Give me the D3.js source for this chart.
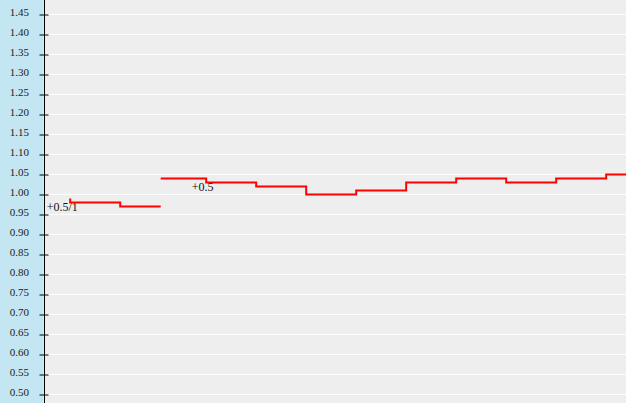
<!DOCTYPE html>
<html>
<head>
<meta charset="utf-8">
<script src="https://cdn.jsdelivr.net/npm/d3@7"></script>
<style>
  html, body { margin: 0; padding: 0; overflow: hidden; }
  svg { display: block; }
</style>
</head>
<body>
<svg id="chart"></svg>
<script>
let width = 626;
let height = 403;
let axisX = 44.5;

// y axis tick labels
const yTicks = [0.50, 0.55, 0.60, 0.65, 0.70, 0.75, 0.80, 0.85, 0.90, 0.95,
  1.00, 1.05, 1.10, 1.15, 1.20, 1.25, 1.30, 1.35, 1.40, 1.45];

// first run (t in steps, value)
const run1T = [0, 0, 1, 1.81];
const run1V = [0.99, 0.98, 0.97, 0.97];

// second run after the gap
const run2T = [1.81, 2.72, 3.72, 4.72, 5.72, 6.72, 7.72, 8.72, 9.72, 10.72, 11.3];
const run2V = [1.04, 1.03, 1.02, 1.00, 1.01, 1.03, 1.04, 1.03, 1.04, 1.05, 1.05];

// annotations tied to data points
const noteText = ["+0.5/1", "+0.5"];
const noteT = [0, 2.72];
const noteV = [0.99, 1.03];

let serif = "'Liberation Serif', 'Times New Roman', 'DejaVu Serif', serif";

let svg = d3.select("svg#chart")
  .attr("width", width)
  .attr("height", height);

let xScale = d3.scaleLinear().domain([0, 10]).range([70.2, 570.2]);
let yScale = d3.scaleLinear().domain([0.5, 1.45]).range([394.5, 14.5]);

// backgrounds
svg.append("rect")
  .attr("x", 0).attr("y", 0)
  .attr("width", width).attr("height", height)
  .attr("fill", "#eeeeee");

svg.append("rect")
  .attr("x", 0).attr("y", 0)
  .attr("width", 43.5).attr("height", height)
  .attr("fill", "#c3e6f2");

// grid lines
svg.append("g")
  .selectAll("line")
  .data(yTicks)
  .join("line")
  .attr("x1", axisX + 1)
  .attr("x2", width)
  .attr("y1", (d) => yScale(d))
  .attr("y2", (d) => yScale(d))
  .attr("stroke", "#ffffff")
  .attr("stroke-width", 1);

// y axis
let yAxis = d3.axisLeft(yScale)
  .tickValues(yTicks)
  .tickSize(0)
  .tickPadding(0)
  .tickFormat(d3.format(".2f"));

let axisG = svg.append("g")
  .attr("transform", `translate(${axisX}, 0)`)
  .attr("font-family", serif)
  .call(yAxis);

axisG.attr("font-family", serif).attr("font-size", 11);
axisG.select(".domain").remove();
axisG.selectAll(".tick text")
  .attr("x", -15.5)
  .attr("dy", "0.05em")
  .attr("fill", "#1a1a1a")
  .style("font-family", serif)
  .style("font-size", "11px");
axisG.selectAll(".tick").append("line")
  .attr("x1", -5)
  .attr("x2", 4)
  .attr("stroke", "#000");

svg.append("line")
  .attr("x1", axisX).attr("x2", axisX)
  .attr("y1", 0).attr("y2", height)
  .attr("stroke", "#000")
  .attr("stroke-width", 1);

// annotations (under the line)
let noteDx = [-23.5, -14.5];
let noteDy = [12.2, 8.2];
svg.append("g")
  .selectAll("text")
  .data(noteText)
  .join("text")
  .attr("x", (d, i) => xScale(noteT[i]) + noteDx[i])
  .attr("y", (d, i) => yScale(noteV[i]) + noteDy[i])
  .attr("fill", "#111")
  .style("font-family", serif)
  .style("font-size", "12px")
  .text((d) => d);

// step line
let line = d3.line()
  .x((d) => xScale(d[0]))
  .y((d) => yScale(d[1]))
  .curve(d3.curveStepAfter);

let runs = [
  run1T.map((t, i) => [t, run1V[i]]),
  run2T.map((t, i) => [t, run2V[i]]),
];

svg.append("g")
  .selectAll("path")
  .data(runs)
  .join("path")
  .attr("d", line)
  .attr("fill", "none")
  .attr("stroke", "#ff0000")
  .attr("stroke-width", 2);
</script>
</body>
</html>
